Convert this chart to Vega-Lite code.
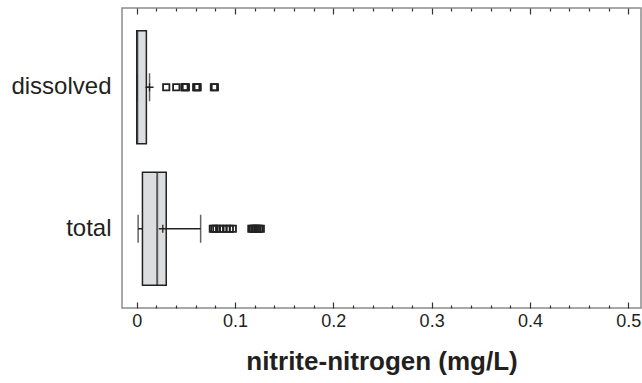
{
  "$schema": "https://vega.github.io/schema/vega-lite/v6.json",
  "width": 519,
  "height": 300,
  "autosize": "none",
  "padding": {"left": 122, "top": 8, "right": 1, "bottom": 75},
  "background": "white",
  "config": {
    "font": "Liberation Sans",
    "view": {"stroke": "#8c8c8c", "strokeWidth": 1.5},
    "axis": {"domain": false, "grid": false, "tickColor": "#333333", "tickWidth": 1.2, "labelColor": "#231f20", "titleColor": "#231f20", "labelFont": "Liberation Sans", "titleFont": "Liberation Sans"},
    "axisY": {"ticks": false, "domain": false, "labelFontSize": 24, "labelPadding": 11, "title": null}
  },
  "datasets": {
    "stats": [
      {"cat": "dissolved", "lo": 0.0, "q1": 0.0, "med": 0.0006, "q3": 0.0098, "hi": 0.013, "mean": 0.013},
      {"cat": "total", "lo": 0.0014, "q1": 0.0058, "med": 0.0208, "q3": 0.030, "hi": 0.065, "mean": 0.0265}
    ],
    "outliers": [
      {"cat": "dissolved", "v": 0.030},
      {"cat": "dissolved", "v": 0.0402},
      {"cat": "dissolved", "v": 0.0485},
      {"cat": "dissolved", "v": 0.0492},
      {"cat": "dissolved", "v": 0.0500},
      {"cat": "dissolved", "v": 0.0605},
      {"cat": "dissolved", "v": 0.0612},
      {"cat": "dissolved", "v": 0.0620},
      {"cat": "dissolved", "v": 0.0785},
      {"cat": "dissolved", "v": 0.0795},
      {"cat": "total", "v": 0.0774},
      {"cat": "total", "v": 0.0790},
      {"cat": "total", "v": 0.0810},
      {"cat": "total", "v": 0.0845},
      {"cat": "total", "v": 0.0880},
      {"cat": "total", "v": 0.0916},
      {"cat": "total", "v": 0.0947},
      {"cat": "total", "v": 0.0977},
      {"cat": "total", "v": 0.1166},
      {"cat": "total", "v": 0.1180},
      {"cat": "total", "v": 0.1196},
      {"cat": "total", "v": 0.1212},
      {"cat": "total", "v": 0.1227},
      {"cat": "total", "v": 0.1245},
      {"cat": "total", "v": 0.1262}
    ]
  },
  "encoding": {
    "y": {"field": "cat", "type": "nominal", "sort": ["dissolved", "total"],
          "scale": {"paddingInner": 0.2, "paddingOuter": 0.16}}
  },
  "layer": [
    {
      "data": {"name": "stats"},
      "mark": {"type": "rule", "color": "#222222", "strokeWidth": 1.3},
      "encoding": {
        "x": {"field": "lo", "type": "quantitative",
              "scale": {"domain": [-0.015, 0.513], "nice": false, "zero": false},
              "axis": {"orient": "bottom", "values": [0, 0.1, 0.2, 0.3, 0.4, 0.5], "format": ".1~f", "tickSize": -6, "labelFontSize": 18, "labelPadding": 10, "labelOverlap": false, "labelBound": false, "labelFlush": false, "title": "nitrite-nitrogen (mg/L)", "titleFontSize": 26, "titleFontWeight": "bold", "titlePadding": 18}},
        "x2": {"field": "hi"}
      }
    },
    {
      "data": {"name": "stats"},
      "mark": {"type": "bar", "fill": "#dcdddf", "stroke": "#222222", "strokeWidth": 1.5},
      "encoding": {
        "x": {"field": "q1", "type": "quantitative",
              "axis": {"orient": "top", "values": [0, 0.1, 0.2, 0.3, 0.4, 0.5], "tickSize": -6, "labels": false, "title": null}},
        "x2": {"field": "q3"}
      }
    },
    {
      "data": {"name": "stats"},
      "mark": {"type": "tick", "color": "#222222", "thickness": 2, "size": 113},
      "encoding": {
        "x": {"field": "med", "type": "quantitative",
              "axis": {"orient": "bottom", "values": [0.02, 0.04, 0.06, 0.08, 0.12, 0.14, 0.16, 0.18, 0.22, 0.24, 0.26, 0.28, 0.32, 0.34, 0.36, 0.38, 0.42, 0.44, 0.46, 0.48], "tickSize": -3, "labels": false, "title": null}}
      }
    },
    {
      "data": {"name": "stats"},
      "mark": {"type": "tick", "color": "#222222", "thickness": 1.5, "size": 28},
      "encoding": {
        "x": {"field": "lo", "type": "quantitative",
              "axis": {"orient": "top", "values": [0.02, 0.04, 0.06, 0.08, 0.12, 0.14, 0.16, 0.18, 0.22, 0.24, 0.26, 0.28, 0.32, 0.34, 0.36, 0.38, 0.42, 0.44, 0.46, 0.48], "tickSize": -3, "labels": false, "title": null}}
      }
    },
    {
      "data": {"name": "stats"},
      "mark": {"type": "tick", "color": "#222222", "thickness": 1.5, "size": 28},
      "encoding": {
        "x": {"field": "hi", "type": "quantitative", "axis": null}
      }
    },
    {
      "data": {"name": "stats"},
      "mark": {"type": "point", "shape": "M-1,0H1M0,-1V1", "size": 64, "filled": false, "stroke": "#222222", "strokeWidth": 1.3, "opacity": 1},
      "encoding": {
        "x": {"field": "mean", "type": "quantitative", "axis": null}
      }
    },
    {
      "data": {"name": "outliers"},
      "mark": {"type": "point", "shape": "square", "size": 40, "filled": false, "stroke": "#222222", "strokeWidth": 1.8, "opacity": 1},
      "encoding": {
        "x": {"field": "v", "type": "quantitative", "axis": null}
      }
    }
  ],
  "resolve": {"axis": {"x": "independent"}}
}
